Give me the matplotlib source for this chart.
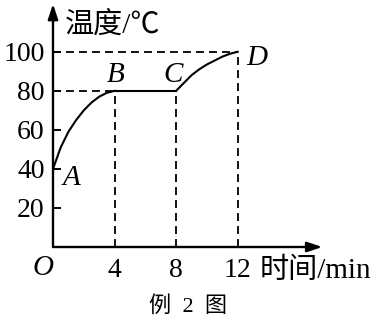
import matplotlib
matplotlib.use('Agg')
import matplotlib.pyplot as plt

# heating curve
ab_time = [0, 0.5, 1, 1.5, 2, 2.5, 3, 3.5, 4]
ab_temp = [40, 51, 59, 65, 70, 74, 77, 79, 80]
bc_time = [4, 8]
bc_temp = [80, 80]
cd_time = [8, 8.5, 9, 9.5, 10, 10.5, 11, 11.5, 12]
cd_temp = [80, 84, 88, 91, 93.5, 95.5, 97.5, 99, 100]

x_ticks = [4, 8, 12]
x_labels = ['4', '8', '12']
y_ticks = [20, 40, 60, 80, 100]
y_labels = ['20', '40', '60', '80', '100']

SERIF = ['Liberation Serif', 'DejaVu Serif']
MIXED = ['Liberation Serif', 'Noto Sans CJK SC', 'DejaVu Sans']

fig = plt.figure(figsize=(3.81, 3.24), dpi=100)
ax = fig.add_axes([53 / 381, 77 / 324, 277 / 381, 244 / 324])
ax.set_xlim(0, 18)
ax.set_ylim(0, 125)
for s in ax.spines.values():
    s.set_visible(False)

# axes with arrows
arrow = dict(arrowstyle='-|>,head_length=0.9,head_width=0.3', mutation_scale=10,
             lw=1.7, color='black', shrinkA=0, shrinkB=0)
ax.annotate('', xy=(17.5, 0), xytext=(0, 0), arrowprops=arrow, annotation_clip=False)
ax.annotate('', xy=(0, 124.5), xytext=(0, 0), arrowprops=arrow, annotation_clip=False)

# guide lines
dash = dict(color='black', lw=1.3, dashes=(4.4, 2.8))
ax.plot([0, 12], [100, 100], **dash)
ax.plot([0, 4], [80, 80], **dash)
for t, v in [(4, 80), (8, 80), (12, 100)]:
    ax.plot([t, t], [0, v], **dash)

# curve
ax.plot(ab_time, ab_temp, color='black', lw=1.5)
ax.plot(bc_time, bc_temp, color='black', lw=1.5)
ax.plot(cd_time, cd_temp, color='black', lw=1.5)

ax.set_yticks(y_ticks)
ax.set_yticklabels(y_labels, fontfamily=SERIF, fontsize=20)
ax.tick_params(axis='y', direction='in', length=6, width=1.4, pad=6)
ax.set_xticks(x_ticks)
ax.set_xticklabels(x_labels, fontfamily=SERIF, fontsize=20)
ax.tick_params(axis='x', length=0, pad=8)

# point letters
for name, x, y in [('A', 1.17, 35.4), ('B', 4.1, 88.2), ('C', 7.8, 88.2), ('D', 13.25, 96.9)]:
    ax.text(x, y, name, fontfamily=SERIF, fontstyle='italic', fontsize=21,
            ha='center', va='center')
ax.text(-0.65, -10.8, 'O', fontfamily=SERIF, fontstyle='italic', fontsize=21,
        ha='center', va='center', clip_on=False)

ax.text(0.78, 113.5, '温度/℃', fontfamily=MIXED, fontsize=21, ha='left', va='center')
ax.text(13.4, -12.3, '时间/min', fontfamily=MIXED, fontsize=21, ha='left', va='center',
        clip_on=False)

fig.text(188 / 381, 1 - 306 / 324, '例  2  图', fontfamily=MIXED, fontsize=16,
         ha='center', va='center')

fig.savefig('out.png', dpi=100)
